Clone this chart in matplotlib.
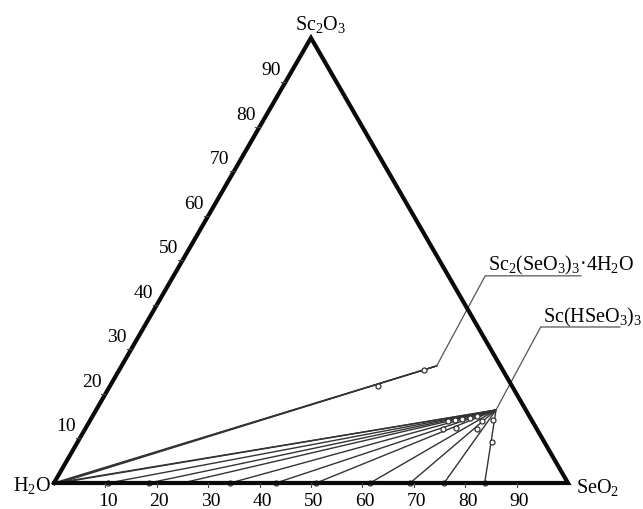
import numpy as np
import matplotlib
matplotlib.use("Agg")
import matplotlib.pyplot as plt

plt.rcParams['font.family'] = ['Liberation Serif', 'DejaVu Serif']
plt.rcParams['mathtext.fontset'] = 'custom'
plt.rcParams['mathtext.rm'] = 'Liberation Serif'
plt.rcParams['mathtext.it'] = 'Liberation Serif:italic'

# ---------------- data (mass %: SeO2, Sc2O3) ----------------
# solid phases
sc_hseo3_se, sc_hseo3_sc = 77.8, 16.4          # Sc(HSeO3)3
sc2_seo3_se, sc2_seo3_sc = 61.3, 26.3          # Sc2(SeO3)3*4H2O

# liquid compositions in equilibrium with Sc2(SeO3)3*4H2O
liq_a_se = [0.0, 0.5, 1.0]
liq_a_sc = [0.0, 0.0, 0.0]
# wet residues for Sc2(SeO3)3*4H2O
res_a_se = [52.1, 59.3]
res_a_sc = [21.8, 25.4]

# liquid compositions in equilibrium with Sc(HSeO3)3
liq_b_se = [0.3, 1.0, 10.6, 18.5, 25.0, 34.3, 43.2, 51.0, 61.5, 69.3, 75.9, 83.8]
liq_b_sc = [0.0, 0.0, 0.0, 0.0, 0.0, 0.0, 0.0, 0.0, 0.0, 0.0, 0.0, 0.0]
# liquid points marked with circles
liq_mark_se = [10.6, 18.5, 34.3, 43.2, 51.0, 61.5, 69.3, 75.9, 83.8]
liq_mark_sc = [0.0, 0.0, 0.0, 0.0, 0.0, 0.0, 0.0, 0.0, 0.0]
# wet residues for Sc(HSeO3)3
res_b_se = [69.6, 72.0, 76.2, 69.7, 70.9, 72.2, 73.6, 74.8, 76.3, 78.3, 80.6]
res_b_sc = [12.1, 12.4, 12.1, 13.9, 14.2, 14.4, 14.6, 15.0, 13.9, 14.2, 9.2]

tick_values = [10, 20, 30, 40, 50, 60, 70, 80, 90]
tick_labels = ['10', '20', '30', '40', '50', '60', '70', '80', '90']

corner_labels = [r'H$_\mathrm{2}$O', r'SeO$_\mathrm{2}$', r'Sc$_\mathrm{2}$O$_\mathrm{3}$']
phase_labels = [r'Sc$_\mathrm{2}$(SeO$_\mathrm{3}$)$_\mathrm{3}$·4H$_\mathrm{2}$O',
                r'Sc(HSeO$_\mathrm{3}$)$_\mathrm{3}$']

# ---------------- helpers ----------------
H = np.sqrt(3) / 2


def tern(se, sc):
    se = np.asarray(se, float)
    sc = np.asarray(sc, float)
    return se + sc / 2.0, sc * H


fig = plt.figure(figsize=(6.43, 5.10), dpi=100)
ax = fig.add_axes([0, 0, 1, 1])
ax.set_xlim(-10.5, 114.6)
ax.set_ylim(-5.06, 94.16)
ax.axis('off')

line_col = '#333333'

# tie lines to Sc2(SeO3)3*4H2O
sx, sy = tern(sc2_seo3_se, sc2_seo3_sc)
for se, sc in zip(liq_a_se, liq_a_sc):
    lx, ly = tern(se, sc)
    ax.plot([lx, sx], [ly, sy], color=line_col, lw=1.0, zorder=2)

# tie lines to Sc(HSeO3)3
bx, by = tern(sc_hseo3_se, sc_hseo3_sc)
for se, sc in zip(liq_b_se, liq_b_sc):
    lx, ly = tern(se, sc)
    ax.plot([lx, bx], [ly, by], color=line_col, lw=1.0, zorder=2)

# markers
mk = dict(ls='none', marker='o', ms=3.6, mfc='white', mec='#333333', mew=0.9, zorder=4)
ax.plot(*tern(res_a_se, res_a_sc), **mk)
ax.plot(*tern(res_b_se, res_b_sc), **mk)
ax.plot(*tern(liq_mark_se, liq_mark_sc), **mk)

# triangle
tx, ty = tern([0, 100, 0, 0], [0, 0, 100, 0])
ax.plot(tx, ty, color='#0a0a0a', lw=3.0, solid_joinstyle='miter', zorder=5)

# ticks and tick labels
fs = 14
for v, lab in zip(tick_values, tick_labels):
    # bottom axis (SeO2)
    x0, y0 = tern(v, 0)
    ax.plot([x0, x0], [y0, y0 - 0.8], color='#444444', lw=0.8, zorder=5)
    ax.text(x0 + 0.5, -3.5, lab, ha='center', va='center', fontsize=fs)
    # left axis (Sc2O3)
    x1, y1 = tern(0, v)
    ax.plot([x1, x1 - 0.8], [y1, y1], color='#444444', lw=0.8, zorder=5)
    ax.text(x1 - 2.7, y1 + 2.5, lab, ha='center', va='center', fontsize=fs)

# corner labels
ax.text(-0.6, -1.4, corner_labels[0], ha='right', va='baseline', fontsize=14.5)
ax.text(101.6, -1.7, corner_labels[1], ha='left', va='baseline', fontsize=14.5)
ax.text(46.9, 88.3, corner_labels[2], ha='left', va='baseline', fontsize=14.5)

# phase labels with leader lines
lead_col = '#555555'
ax.plot([sx, 83.9, 102.5], [sy, 40.3, 40.3], color=lead_col, lw=0.9, zorder=3)
ax.text(84.4, 41.6, phase_labels[0], ha='left', va='baseline', fontsize=14.5)
ax.plot([bx, 94.7, 110.1], [by, 30.35, 30.35], color=lead_col, lw=0.9, zorder=3)
ax.text(95.2, 31.5, phase_labels[1], ha='left', va='baseline', fontsize=14.5)

fig.savefig('out.png', dpi=100)
